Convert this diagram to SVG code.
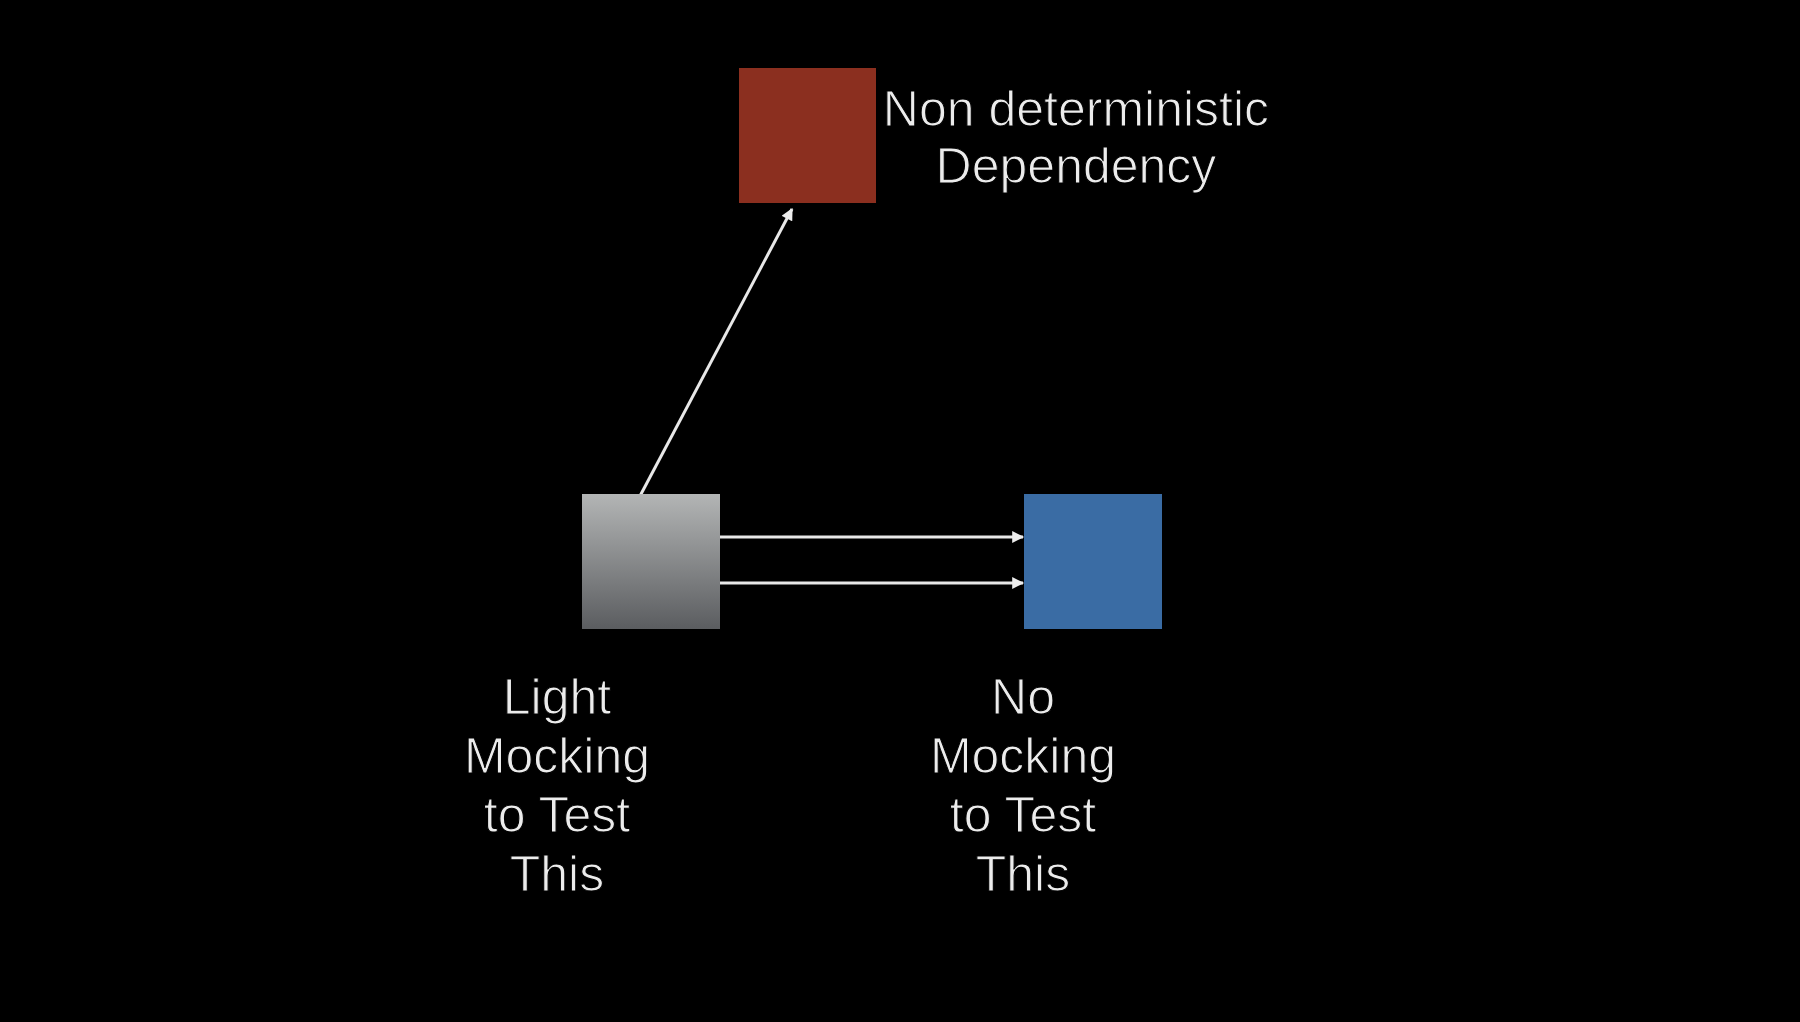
<svg xmlns="http://www.w3.org/2000/svg" width="1800" height="1022" viewBox="0 0 1800 1022">
  <style>
    .lbl { font-family: "Liberation Sans", Arial, sans-serif; font-size: 50px; fill: #ececec; text-anchor: middle; stroke: #000; stroke-width: 1.1px; }
    .conn { stroke: #e8e8e8; stroke-width: 3; fill: none; marker-end: url(#arrow); }
  </style>
  <defs>
    <linearGradient id="grayGrad" x1="0" y1="0" x2="0" y2="1">
      <stop offset="0" stop-color="#b3b5b5"/>
      <stop offset="1" stop-color="#5b5d60"/>
    </linearGradient>
    <marker id="arrow" viewBox="0 0 10 10" refX="9" refY="5" markerWidth="4.3" markerHeight="4" orient="auto" markerUnits="strokeWidth">
      <path d="M0,0 L10,5 L0,10 Z" fill="#ededed"/>
    </marker>
  </defs>
  <rect width="1800" height="1022" fill="#000"/>

  <g id="connectors">
    <line class="conn" x1="640" y1="496" x2="792" y2="209"/>
    <line class="conn" x1="720" y1="537" x2="1023" y2="537"/>
    <line class="conn" x1="720" y1="583" x2="1023" y2="583"/>
  </g>

  <g id="node-nondeterministic">
    <rect x="739" y="68" width="137" height="135" fill="#8b2f1f"/>
    <text class="lbl" x="1076" y="126">Non deterministic</text>
    <text class="lbl" x="1076" y="183">Dependency</text>
  </g>

  <g id="node-light">
    <rect x="582" y="494" width="138" height="135" fill="url(#grayGrad)"/>
    <text class="lbl" x="557" y="714">Light</text>
    <text class="lbl" x="557" y="773">Mocking</text>
    <text class="lbl" x="557" y="832">to Test</text>
    <text class="lbl" x="557" y="891">This</text>
  </g>

  <g id="node-no">
    <rect x="1024" y="494" width="138" height="135" fill="#3a6ca4"/>
    <text class="lbl" x="1023" y="714">No</text>
    <text class="lbl" x="1023" y="773">Mocking</text>
    <text class="lbl" x="1023" y="832">to Test</text>
    <text class="lbl" x="1023" y="891">This</text>
  </g>
</svg>
